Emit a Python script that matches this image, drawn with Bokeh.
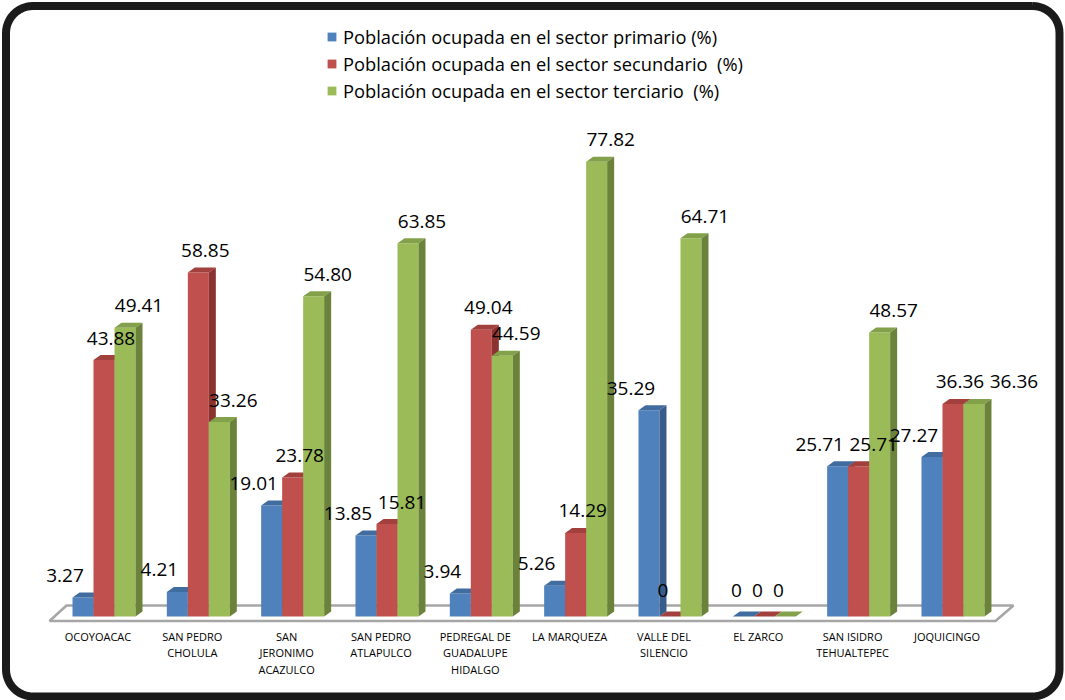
import math
from bokeh.plotting import figure
from bokeh.models import Range1d, Legend, LegendItem
from bokeh.core.properties import value
from bokeh.embed import file_html
from bokeh.resources import INLINE

# ---------------- data ----------------
categories = ["OCOYOACAC", "SAN PEDRO\nCHOLULA", "SAN\nJERONIMO\nACAZULCO", "SAN PEDRO\nATLAPULCO",
              "PEDREGAL DE\nGUADALUPE\nHIDALGO", "LA MARQUEZA", "VALLE DEL\nSILENCIO", "EL ZARCO",
              "SAN ISIDRO\nTEHUALTEPEC", "JOQUICINGO"]
primario = [3.27, 4.21, 19.01, 13.85, 3.94, 5.26, 35.29, 0, 25.71, 27.27]
secundario = [43.88, 58.85, 23.78, 15.81, 49.04, 14.29, 0, 0, 25.71, 36.36]
terciario = [49.41, 33.26, 54.80, 63.85, 44.59, 77.82, 64.71, 0, 48.57, 36.36]
series_names = ["Población ocupada en el sector primario (%)",
                "Población ocupada en el sector secundario  (%)",
                "Población ocupada en el sector terciario  (%)"]

# ---------------- layout / style ----------------
W, H = 1065, 700
X0 = 103.5     # pixel x of first category centre
DX = 94.33     # pixels per category
Y0 = 616.0     # pixel y of the baseline
KY = 5.845     # pixels per percentage unit

front_cols = ["#4F81BD", "#C0504D", "#9BBB59"]
top_cols = ["#416C9F", "#A2403D", "#83A14A"]
side_cols = ["#385D8A", "#8A3331", "#6A823A"]
FONT = value("Open Sans")

bw = 21.0 / DX          # bar width in category units
ddx = 7.0 / DX          # depth offsets
ddy = 5.0 / KY


def sx(px):
    return (px - X0) / DX


def sy(py):
    return (Y0 - py) / KY


p = figure(width=W, height=H, output_backend="svg", toolbar_location=None,
           x_range=Range1d(sx(0), sx(W)), y_range=Range1d(sy(H), sy(0)),
           min_border=0, outline_line_color=None,
           background_fill_color="white", border_fill_color="white")
p.xaxis.visible = False
p.yaxis.visible = False
p.grid.visible = False

# ---------------- rounded frame ----------------
def rounded(x0, y0, x1, y1, r, steps=12):
    pts = []
    corners = [(x1 - r, y0 + r, -90, 0), (x1 - r, y1 - r, 0, 90),
               (x0 + r, y1 - r, 90, 180), (x0 + r, y0 + r, 180, 270)]
    for cx, cy, a0, a1 in corners:
        for k in range(steps + 1):
            a = math.radians(a0 + (a1 - a0) * k / steps)
            pts.append((cx + r * math.cos(a), cy + r * math.sin(a)))
    pts.append(pts[0])
    return [sx(a) for a, b in pts], [sy(b) for a, b in pts]

fx, fy = rounded(5.5, 5.5, 1059, 696, 27)
p.line(fx, fy, line_color="#1b1b1b", line_width=8, line_join="round")

# ---------------- floor ----------------
floor_px = [(49, 620.5), (995, 620.5), (1013, 605), (66, 605)]
p.patch([sx(a) for a, b in floor_px], [sy(b) for a, b in floor_px],
        fill_color="white", line_color="#A6A6A6", line_width=2.5)

# ---------------- 3D bars ----------------
series = [primario, secundario, terciario]
n = len(categories)
front_renderers = []
for s, vals in enumerate(series):
    lefts = [i + (s - 1) * bw - bw / 2 for i in range(n)]
    rights = [l + bw for l in lefts]
    r = p.quad(left=lefts, right=rights, bottom=[0] * n, top=vals,
               fill_color=front_cols[s], line_color=None)
    front_renderers.append(r)
    txs, tys, sxs, sys_ = [], [], [], []
    for l, rr, v in zip(lefts, rights, vals):
        txs.append([l, rr, rr + ddx, l + ddx])
        tys.append([v, v, v + ddy, v + ddy])
        if v > 0:
            sxs.append([rr, rr + ddx, rr + ddx, rr])
            sys_.append([0, ddy, v + ddy, v])
    p.patches(txs, tys, fill_color=top_cols[s], line_color=None)
    if sxs:
        p.patches(sxs, sys_, fill_color=side_cols[s], line_color=None)

# ---------------- value labels ----------------
nudge_px = [-18, 7, 14]
lx_all, ly_all, lt_all = [], [], []
for i in range(n):
    placed = []
    for s, vals in enumerate(series):
        v = vals[i]
        t = "0" if v == 0 else f"{v:.2f}"
        cx = i + (s - 1) * bw
        if v == 0:
            lx = cx - 7 / DX
            ly = 26 / KY
        else:
            lx = cx + nudge_px[s] / DX
            ly = v + 22 / KY
        wpx = 10.8 * len(t) - 5 * t.count(".")
        for (px_, py_, pw_) in placed:
            if abs((ly - py_) * KY) < 20 and (lx - px_) * DX < (pw_ + wpx) / 2 + 5:
                lx = px_ + ((pw_ + wpx) / 2 + 5) / DX
        placed.append((lx, ly, wpx))
        lx_all.append(lx)
        ly_all.append(ly)
        lt_all.append(t)
p.text(x=lx_all, y=ly_all, text=lt_all, text_font=FONT, text_font_size="19px",
       text_align="center", text_baseline="middle", text_color="#000000")

# ---------------- category labels ----------------
p.text(x=[i - 6 / DX for i in range(n)], y=[sy(628)] * n, text=categories,
       text_font=FONT, text_font_size="11px", text_align="center",
       text_baseline="top", text_line_height=1.1, text_color="#000000")

# ---------------- legend ----------------
legend = Legend(items=[LegendItem(label=nm, renderers=[rd]) for nm, rd in zip(series_names, front_renderers)],
                location=(321, H - 108), orientation="vertical",
                glyph_width=11, glyph_height=11,
                label_height=26, spacing=1, padding=5, margin=0, label_standoff=6,
                border_line_alpha=0, background_fill_alpha=0)
legend.label_text_font = "Open Sans"
legend.label_text_font_size = "18.3px"
legend.label_text_color = "#000000"
p.add_layout(legend)

open("out.html", "w").write(file_html(p, INLINE))
